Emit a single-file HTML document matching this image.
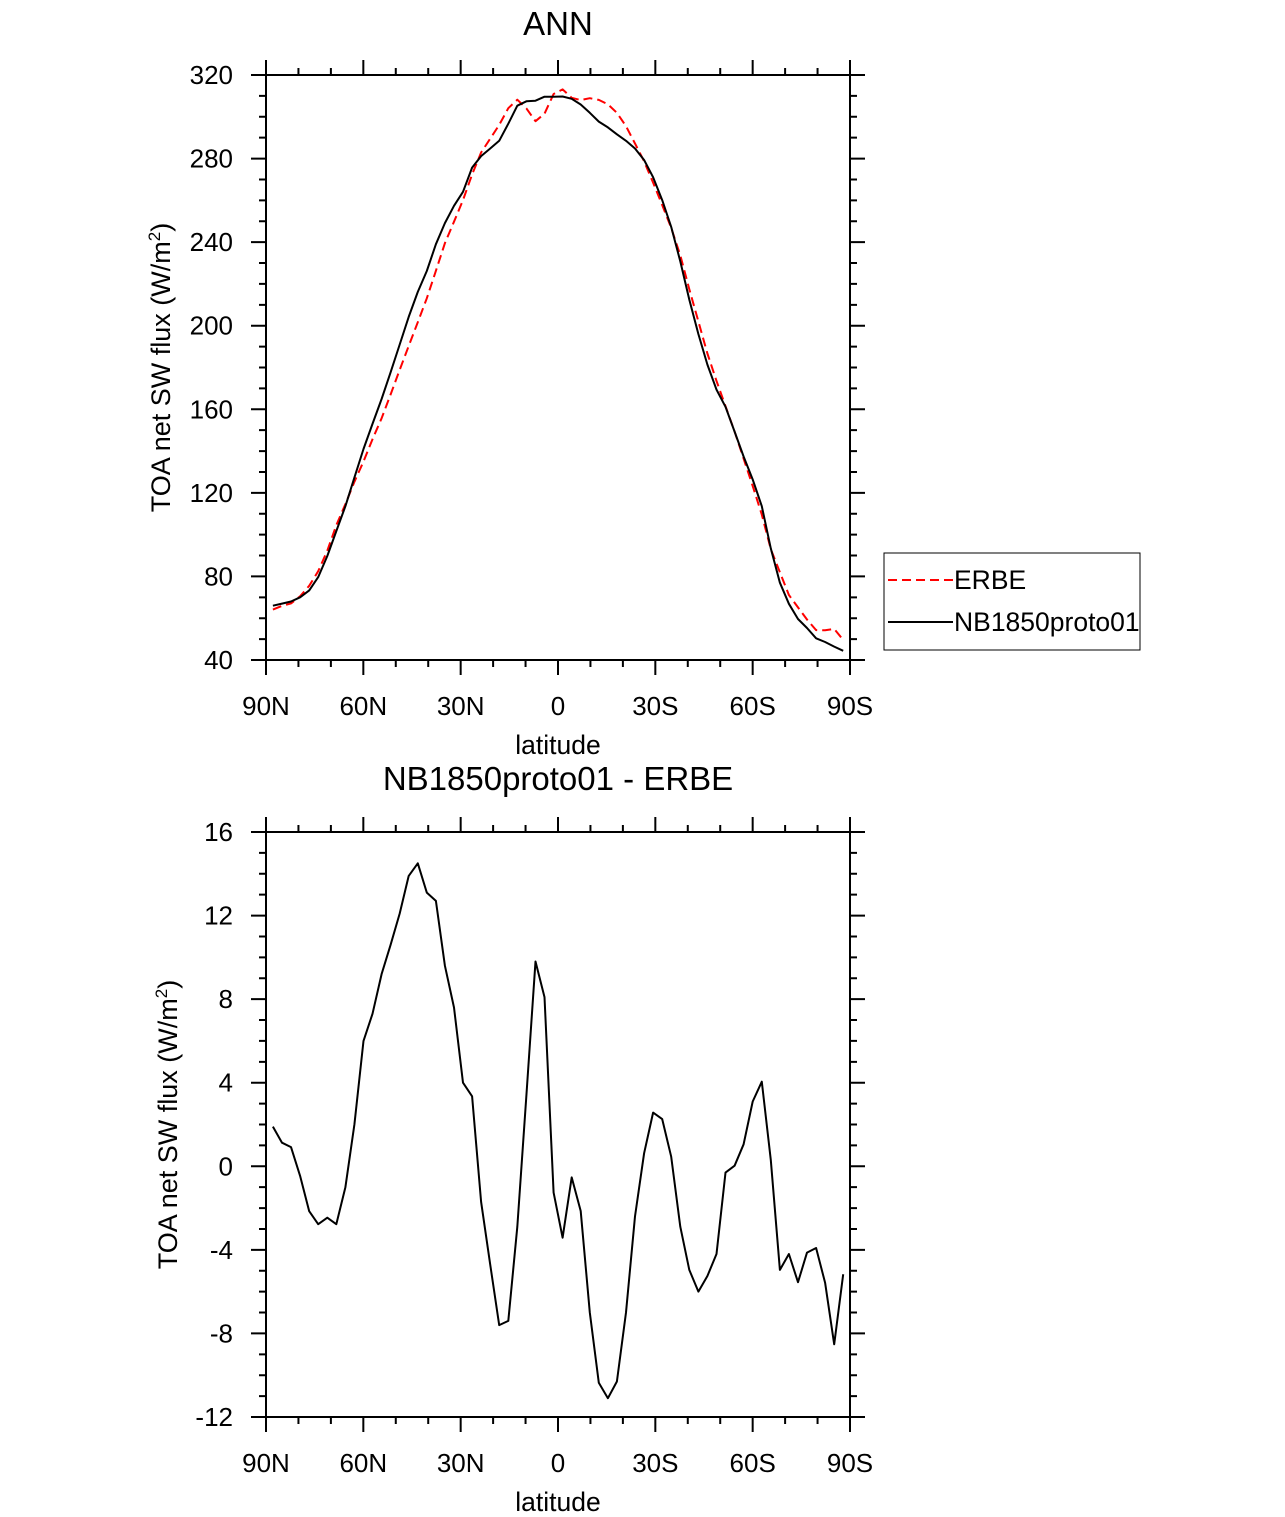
<!DOCTYPE html>
<html><head><meta charset="utf-8"><style>
body{margin:0;background:#fff;}
svg{display:block;font-family:"Liberation Sans",Arial,sans-serif;}
</style></head><body>
<svg id="svg" width="1285" height="1517" viewBox="0 0 1285 1517" xmlns="http://www.w3.org/2000/svg">
<text x="558" y="35" font-size="33" text-anchor="middle">ANN</text>
<text x="558" y="790" font-size="33" text-anchor="middle">NB1850proto01 - ERBE</text>
<g id="top"></g>
<g id="bot"></g>
<g>
<rect x="884" y="553" width="256" height="97" fill="#fff" stroke="#000" stroke-width="1"/>
<line x1="888" y1="580" x2="953" y2="580" stroke="#f00" stroke-width="2" stroke-dasharray="9,5"/>
<text x="954" y="589" font-size="26.5">ERBE</text>
<line x1="888" y1="622" x2="953" y2="622" stroke="#000" stroke-width="2"/>
<text x="954" y="631" font-size="26.5">NB1850proto01</text>
</g>
</svg>
<script>
const lats = [];
for (let i = 0; i < 64; i++) lats.push(87.86 - i * 2.79);
const modelVals = [66,67,68,70,73.3,79.7,89.8,101.7,113.6,127.3,141,153,164.9,177.7,191,204.2,216.2,226.2,239,249.1,257.4,264.1,275.7,281.2,284.8,288.5,296.7,305.3,307.4,307.7,309.6,309.6,309.7,308.6,305.9,301.9,297.7,294.9,291.6,288.5,284.8,279.3,271.1,260.1,247.3,230.8,212.5,196,181.4,169.4,161.2,149.3,137.4,126.4,113.6,93.4,77,66.9,59.6,55.3,50.4,48.6,46.4,44.4];
const erbeVals = [64.1,65.9,67.1,70.5,75.5,82.5,92.3,104.5,114.6,125.3,135,145.7,155.7,167.1,178.9,190.3,201.7,213.1,226.3,239.5,249.8,260.1,272.4,282.9,289.5,296.1,304.1,308.2,304,297.9,301.5,310.9,313.1,309.1,308,308.9,308.1,306,301.9,295.5,287.2,278.7,268.5,257.8,246.8,233.7,217.5,202,186.7,173.6,161.5,149.3,136.4,123.3,109.6,93.1,82,71.1,65.2,59.4,54.3,54.2,54.9,49.6];
const diffVals = [1.9,1.13,0.92,-0.46,-2.15,-2.77,-2.46,-2.77,-1.0,2.0,6.0,7.3,9.2,10.6,12.1,13.9,14.5,13.1,12.7,9.6,7.6,4.0,3.35,-1.7,-4.7,-7.6,-7.4,-2.9,3.4,9.8,8.1,-1.26,-3.42,-0.53,-2.14,-7.0,-10.36,-11.1,-10.3,-7.0,-2.4,0.62,2.57,2.26,0.46,-2.89,-4.96,-6.0,-5.25,-4.2,-0.3,0.03,1.05,3.1,4.05,0.3,-4.96,-4.2,-5.55,-4.13,-3.91,-5.57,-8.52,-5.17];
const xTickVals = [90,60,30,0,-30,-60,-90];
const xTickLabels = ["90N","60N","30N","0","30S","60S","90S"];
const topYTicks = [40,80,120,160,200,240,280,320];
const botYTicks = [-12,-8,-4,0,4,8,12,16];

const NS="http://www.w3.org/2000/svg";
const X0=266,X1=850;
function xs(lat){return X0+(90-lat)/180*(X1-X0);}
function mk(tag,attrs,parent){const e=document.createElementNS(NS,tag);for(const k in attrs)e.setAttribute(k,attrs[k]);parent.appendChild(e);return e;}

function panel(g,yTop,yBot,ymin,ymax,yTicks,minorStep,prefix){
  const ys=v=>yBot-(v-ymin)/(ymax-ymin)*(yBot-yTop);
  const frame=mk('rect',{x:X0,y:yTop,width:X1-X0,height:yBot-yTop,fill:'none',stroke:'#000','stroke-width':2},g);
  
  
  let d='';
  for(let lat=90;lat>=-90;lat-=10){
    const x=xs(lat);const L=(lat%30===0)?15:7;
    d+=`M${x},${yBot}v${L}M${x},${yTop}v${-L}`;
  }
  for(let v=ymin;v<=ymax+1e-9;v+=minorStep){
    const y=ys(v);const major=yTicks.some(t=>Math.abs(t-v)<1e-6);const L=major?15:7;
    d+=`M${X0},${y}h${-L}M${X1},${y}h${L}`;
  }
  const ticks=mk('path',{d:d,stroke:'#000','stroke-width':2,fill:'none'},g);
  
  
  xTickVals.forEach((v,i)=>{
    const t=mk('text',{x:xs(v),y:yBot+55,'font-size':26,'text-anchor':'middle'},g);t.textContent=xTickLabels[i];
    
    
  });
  yTicks.forEach(v=>{
    const t=mk('text',{x:233,y:ys(v)+9,'font-size':26,'text-anchor':'end'},g);t.textContent=String(v);
    
    
  });
  const xt=mk('text',{x:558,y:yBot+94,'font-size':26.5,'text-anchor':'middle'},g);xt.textContent='latitude';
  
  
  const cy=(yTop+yBot)/2, cx=(prefix==='top')?170:177;
  const yt=mk('text',{x:cx,y:cy,'font-size':27,'text-anchor':'middle',transform:`rotate(-90 ${cx} ${cy})`},g);
  yt.innerHTML='TOA net SW flux (W/m<tspan dy="-10" font-size="17">2</tspan><tspan dy="10">)</tspan>';
  
  
  return ys;
}
function line(g,ys,vals,color,dash,name){
  const pts=vals.map((v,i)=>xs(lats[i]).toFixed(1)+','+ys(v).toFixed(1)).join(' ');
  const p=mk('polyline',{points:pts,fill:'none',stroke:color,'stroke-width':2,'stroke-linejoin':'round'},g);
  if(dash)p.setAttribute('stroke-dasharray',dash);
  
  
}
const gt=document.getElementById('top');
const yTopS=panel(gt,75,660,40,320,topYTicks,10,'top');
line(gt,yTopS,erbeVals,'#f00','9,5','erbe-line');
line(gt,yTopS,modelVals,'#000',null,'model-line');
const gb=document.getElementById('bot');
const yBotS=panel(gb,832,1417,-12,16,botYTicks,1,'bottom');
line(gb,yBotS,diffVals,'#000',null,'difference-line');
</script>
</body></html>
